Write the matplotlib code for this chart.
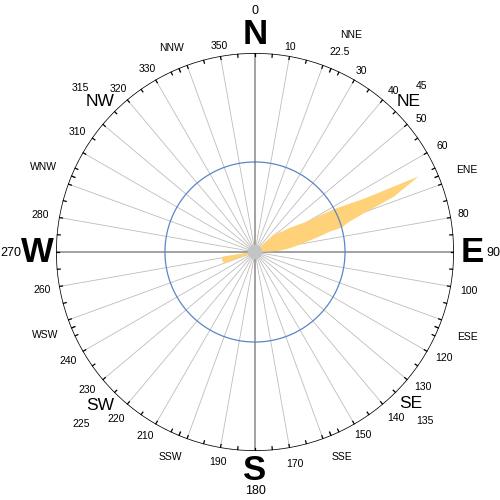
import numpy as np
import matplotlib.pyplot as plt

plt.rcParams['font.family'] = ['Liberation Sans', 'DejaVu Sans']

#_________________________ DATOS _________________________
# contorno del petalo principal (direccion en grados, frecuencia en %)
main_dirs = [44, 47, 48.5, 55, 59.5, 61.5, 64, 65.2, 68.3, 70.6, 72.5, 74.3, 74.8,
             77, 79, 83.5, 87, 89]
main_freq = [0.3, 1.9, 1.35, 2.3, 3.3, 5.0, 6.8, 10.0, 8.3, 6.3, 5.4, 5.0, 4.3,
             3.5, 2.9, 2.0, 1.4, 0.45]
wsw_dirs = [248, 250, 256, 262, 264]
wsw_freq = [0.3, 1.8, 1.9, 1.8, 0.3]
spike_dirs = [4, 353, 197]
spike_freq = [2.9, 1.4, 1.7]
pale_dirs = [305, 309]
pale_freq = [1.6, 1.3]

ring_freq = 5.0
r_max = 11.05

# etiquetas: texto y posicion (pixeles desde arriba a la izquierda)
card_names = ['N', 'E', 'S', 'W']
card_pos = [(255, 34), (472, 253), (255, 470), (37, 253)]
card_nums = ['0', '90', '180', '270']
card_num_pos = [(255, 11), (493, 253), (255, 491), (11, 253)]
inter_names = ['NE', 'SE', 'SW', 'NW']
inter_pos = [(409, 101), (411, 404), (100, 406), (100, 102)]
inter_nums = ['45', '135', '225', '315']
inter_num_pos = [(422, 86), (425, 421), (81, 424), (80, 88)]
sub_names = ['NNE', 'ENE', 'ESE', 'SSE', 'SSW', 'WSW', 'WNW', 'NNW']
sub_pos = [(351, 35), (467, 170), (467, 337), (342, 457), (170, 457), (45, 335),
           (43, 167), (172, 48)]
num_labels = ['10', '22.5', '30', '40', '50', '60', '80', '100', '120', '130', '140',
              '150', '170', '190', '210', '220', '230', '240', '260', '280', '310',
              '320', '330', '350']
num_pos = [(290, 47), (340, 52), (361, 71), (393, 91), (421, 119), (442, 146),
           (463, 214), (469, 291), (444, 358), (423, 387), (396, 418), (363, 435),
           (295, 464), (218, 462), (145, 436), (116, 419), (87, 390), (68, 361),
           (42, 290), (40, 215), (77, 132), (118, 89), (147, 69), (219, 46)]
sub_dirs = [22.5, 67.5, 112.5, 157.5, 202.5, 247.5, 292.5, 337.5]

#_________________________ FIGURA _________________________
fig = plt.figure(figsize=(5, 5), dpi=100)
ax = fig.add_axes([0.112, 0.098, 0.796, 0.796], projection='polar')
ax.set_theta_zero_location('N')
ax.set_theta_direction(-1)
ax.set_ylim(0, r_max)
ax.axis('off')

rad = np.radians
k = r_max / 199.0  # pixeles a unidades de radio

# lineas radiales cada 10 grados
for d in range(0, 360, 10):
    if d % 90 == 0:
        ax.plot([rad(d), rad(d)], [0, r_max], color='#9a9a9a', lw=1.3, zorder=1)
    else:
        ax.plot([rad(d), rad(d)], [0, r_max - 3 * k], color='#bdbdbd', lw=0.6, zorder=1)

# circulo exterior y anillo azul
th = np.linspace(0, 2 * np.pi, 721)
ax.plot(th, np.full_like(th, r_max), color='black', lw=1.1, zorder=3)
ax.plot(th, np.full_like(th, ring_freq), color='#5b86c4', lw=0.9, zorder=3)

# marcas cada 5 grados y marcas largas de los 16 rumbos
for d in range(0, 360, 5):
    ax.plot([rad(d), rad(d)], [r_max - 3.5 * k, r_max + 3.5 * k], color='black', lw=0.9, zorder=3)
for d in sub_dirs:
    ax.plot([rad(d), rad(d)], [r_max - 4 * k, r_max + 12 * k], color='black', lw=1.0, zorder=3)

# petalos
def petalo(dirs, freq, alpha=1.0):
    t = np.radians([dirs[0]] + list(dirs) + [dirs[-1]])
    r = [0] + list(freq) + [0]
    ax.fill(t, r, color='#ffd27a', alpha=alpha, lw=0, zorder=2)

petalo(main_dirs, main_freq)
petalo(wsw_dirs, wsw_freq)
for d, f in zip(spike_dirs, spike_freq):
    petalo([d - 1.6, d, d + 1.6], [0.2, f, 0.2], alpha=0.9)
for d, f in zip(pale_dirs, pale_freq):
    petalo([d - 1.2, d, d + 1.2], [0.2, f, 0.2], alpha=0.5)

# disco central
ax.fill(th, np.full_like(th, 7 * k), color='#c4c4c4', lw=0, zorder=4)

# textos
def texto(s, pos, size, weight='normal'):
    fig.text(pos[0] / 500, 1 - pos[1] / 500, s, ha='center', va='center',
             fontsize=size, fontweight=weight)

for s, p in zip(card_names, card_pos):
    texto(s, p, 25, 'bold')
for s, p in zip(card_nums, card_num_pos):
    texto(s, p, 9)
for s, p in zip(inter_names, inter_pos):
    texto(s, p, 12.5)
for s, p in zip(inter_nums, inter_num_pos):
    texto(s, p, 7.5)
for s, p in zip(sub_names, sub_pos):
    texto(s, p, 7.5)
for s, p in zip(num_labels, num_pos):
    texto(s, p, 7.5)

plt.savefig('out.png', dpi=100)
